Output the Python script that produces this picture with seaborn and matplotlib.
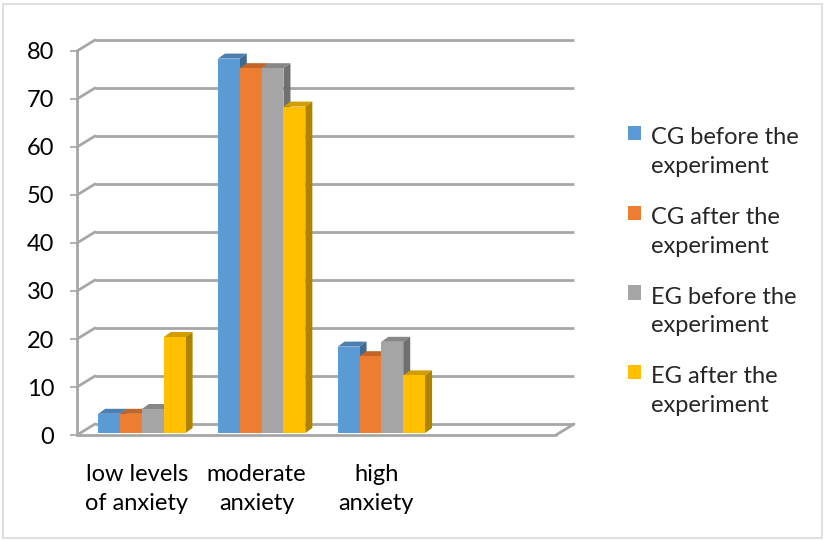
import matplotlib
matplotlib.use("Agg")
import matplotlib.pyplot as plt
import seaborn as sns
import pandas as pd
import numpy as np
from matplotlib.patches import Polygon, Rectangle
from matplotlib.colors import to_rgb
from matplotlib.transforms import offset_copy
from matplotlib.legend_handler import HandlerPatch

categories = ["low levels\nof anxiety", "moderate\nanxiety", "high\nanxiety", " "]
groups = ["CG before the\nexperiment", "CG after the\nexperiment",
          "EG before the\nexperiment", "EG after the\nexperiment"]
cg_before = [4, 78, 18]
cg_after = [4, 76, 16]
eg_before = [5, 76, 19]
eg_after = [20, 68, 12]
colors = ["#5B9BD5", "#ED7D31", "#A5A5A5", "#FFC000"]
yticks = [0, 10, 20, 30, 40, 50, 60, 70, 80]

rows = []
for g, vals in zip(groups, [cg_before, cg_after, eg_before, eg_after]):
    for c, v in zip(categories[:3], vals):
        rows.append({"category": c, "group": g, "value": v})
df = pd.DataFrame(rows)

sns.set_theme(style="white")
plt.rcParams['font.family'] = ['Lato', 'DejaVu Sans']
FS = 17
LS = 1.45

W, H = 826, 541
fig = plt.figure(figsize=(W / 100, H / 100), dpi=100)
ax_l, ax_r, ax_b, ax_t = 77, 556, 435, 51
ax = fig.add_axes([ax_l / W, 1 - ax_b / H, (ax_r - ax_l) / W, (ax_b - ax_t) / H])

sns.barplot(data=df, x="category", y="value", hue="group", order=categories,
            hue_order=groups, palette=colors, width=0.73, saturation=1,
            ax=ax, legend=False, zorder=3)

ax.set_xlim(-0.5, 3.5)
ax.set_ylim(0, 80)
for s in ax.spines.values():
    s.set_visible(False)

px_x = 4.0 / (ax_r - ax_l)       # data units per pixel (x)
px_y = 80.0 / (ax_b - ax_t)      # data units per pixel (y)

gridc = "#A6A6A6"
# back wall grid
gdx, gdy = 18 * px_x, 11 * px_y
for yv in yticks:
    ax.plot([-0.5 + gdx, 3.5 + gdx], [yv + gdy, yv + gdy], color=gridc, lw=2,
            zorder=1, clip_on=False, solid_capstyle="butt")
    ax.plot([-0.5, -0.5 + gdx], [yv, yv + gdy], color=gridc, lw=2, zorder=1, clip_on=False)
ax.plot([3.5, 3.5 + gdx], [0, gdy], color=gridc, lw=2, zorder=1, clip_on=False)
# front axes
ax.plot([-0.5, 3.5], [0, 0], color=gridc, lw=2, zorder=2, clip_on=False)
ax.plot([-0.5, -0.5], [0, 80], color=gridc, lw=2, zorder=2, clip_on=False)

# 3D faces on bars, bars sit slightly behind the front axis plane
bar_tr = offset_copy(ax.transData, fig=fig, x=5, y=2, units="dots")
bdx, bdy = 7 * px_x, 5 * px_y
for p in list(ax.patches):
    x0, w, h = p.get_x(), p.get_width(), p.get_height()
    if not np.isfinite(h) or h <= 0:
        continue
    p.set_transform(bar_tr)
    p.set_edgecolor("none")
    base = np.array(to_rgb(p.get_facecolor()))
    top = Polygon([[x0, h], [x0 + w, h], [x0 + w + bdx, h + bdy], [x0 + bdx, h + bdy]],
                  closed=True, facecolor=base * 0.82, edgecolor="none", zorder=2.9,
                  transform=bar_tr)
    side = Polygon([[x0 + w, 0], [x0 + w + bdx, bdy], [x0 + w + bdx, h + bdy], [x0 + w, h]],
                   closed=True, facecolor=base * 0.68, edgecolor="none", zorder=2.9,
                   transform=bar_tr)
    ax.add_patch(top)
    ax.add_patch(side)

ax.set_yticks(yticks)
ax.set_yticklabels([str(v) for v in yticks], fontsize=FS, color="black")
ax.set_xticks(range(4))
ax.set_xticklabels(categories, fontsize=FS, color="black", linespacing=LS)
ax.set_xticks([-0.5, 0.5, 1.5, 2.5, 3.5], minor=True)
ax.tick_params(axis="x", which="major", length=0, pad=21)
ax.tick_params(axis="x", which="minor", length=7, width=1.2, color=gridc, direction="out")
ax.tick_params(axis="y", which="major", length=5, width=1.2, color=gridc, direction="out",
               left=True, pad=11.5)
ax.set_xlabel("")
ax.set_ylabel("")

sq_shift = 19 * 72 / 100  # raise the square to the first text line, in points


def make_sq(legend, orig_handle, xdescent, ydescent, width, height, fontsize):
    return Rectangle((-xdescent, -ydescent + sq_shift), width, height)


handles = [Rectangle((0, 0), 1, 1, facecolor=c, edgecolor="none") for c in colors]
leg = fig.legend(handles, groups, loc="upper left", bbox_to_anchor=(607 / W, 1 - 106 / H),
                 frameon=False, fontsize=FS, handlelength=0.56, handleheight=0.56,
                 handletextpad=0.42, labelspacing=1.27,
                 handler_map={Rectangle: HandlerPatch(patch_func=make_sq)})
for t in leg.get_texts():
    t.set_linespacing(LS)

fig.patches.append(Rectangle((3 / W, 3 / H), (W - 7) / W, (H - 7) / H, transform=fig.transFigure,
                             fill=False, edgecolor="#D9D9D9", lw=1.2))

fig.savefig("out.png", dpi=100)
